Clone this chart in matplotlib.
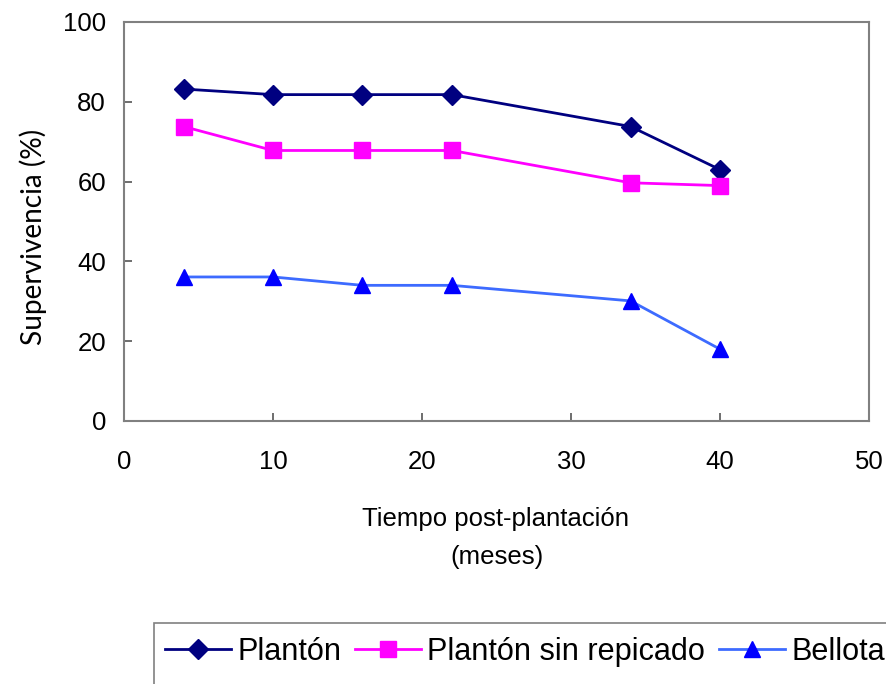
import matplotlib.pyplot as plt
from matplotlib.patches import Rectangle

# data
meses = [4, 10, 16, 22, 34, 40]
planton = [83.2, 81.8, 81.8, 81.8, 73.8, 63.0]
planton_sin_repicado = [73.8, 67.8, 67.8, 67.8, 59.7, 59.0]
bellota = [36.1, 36.1, 34.0, 34.0, 30.1, 18.0]

labels = ['Plantón', 'Plantón sin repicado', 'Bellota']
xticks = [0, 10, 20, 30, 40, 50]
yticks = [0, 20, 40, 60, 80, 100]

plt.rcParams['font.family'] = ['Liberation Sans', 'DejaVu Sans']

W, H = 887, 684
fig = plt.figure(figsize=(W / 100, H / 100), dpi=100)
ax = fig.add_axes([124 / W, 1 - 421 / H, 745 / W, 399 / H])

ax.plot(meses, planton, color='#000080', lw=2, marker='D', ms=10,
        mfc='#000080', mec='#000080', label=labels[0])
ax.plot(meses, planton_sin_repicado, color='#FF00FF', lw=2, marker='s', ms=12,
        mfc='#FF00FF', mec='#FF00FF', label=labels[1])
ax.plot(meses, bellota, color='#3D6BFF', lw=2, marker='^', ms=12,
        mfc='#0000FF', mec='#0000FF', label=labels[2])

ax.set_xlim(0, 50)
ax.set_ylim(0, 100)
ax.set_xticks(xticks)
ax.set_yticks(yticks)
ax.tick_params(direction='in', length=6, width=1.2, colors='#555555',
               labelcolor='black', labelsize=18.5)
ax.tick_params(axis='x', pad=21)
ax.tick_params(axis='y', pad=13)
for s in ax.spines.values():
    s.set_color('#808080')
    s.set_linewidth(1.5)

fig.text(33 / W, 1 - 237 / H, 'Supervivencia (%)', rotation=90,
         ha='center', va='center', fontsize=20.2, family=['Lato', 'DejaVu Sans'])
fig.text(496 / W, 1 - 519 / H, 'Tiempo post-plantación',
         ha='center', va='center', fontsize=18.5)
fig.text(497 / W, 1 - 557 / H, '(meses)',
         ha='center', va='center', fontsize=18.5)

# legend box runs past the right and bottom edges, as in the reference
leg = fig.legend(loc='center left', bbox_to_anchor=(165 / W, 1 - 652 / H),
                 ncol=3, fontsize=22.1, frameon=False,
                 handlelength=2.15, handletextpad=0.2, columnspacing=0.46,
                 borderpad=0, borderaxespad=0)
fig.add_artist(Rectangle((154 / W, 1 - 700 / H), 800 / W, 77 / H,
                         transform=fig.transFigure, fill=False,
                         edgecolor='#808080', lw=1.2))

fig.savefig('out.png', dpi=100)
